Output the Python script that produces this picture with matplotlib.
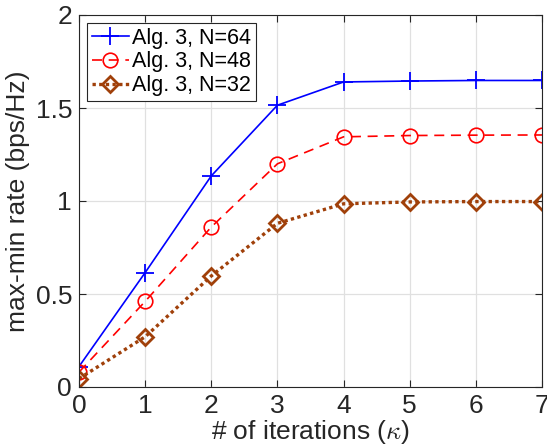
import matplotlib.pyplot as plt

iterations = [0, 1, 2, 3, 4, 5, 6, 7]
rate_n64 = [0.11, 0.615, 1.135, 1.515, 1.640, 1.645, 1.648, 1.648]
rate_n48 = [0.08, 0.46, 0.86, 1.20, 1.345, 1.352, 1.354, 1.355]
rate_n32 = [0.045, 0.27, 0.597, 0.88, 0.985, 0.995, 0.997, 0.997]
labels = ["Alg. 3, N=64", "Alg. 3, N=48", "Alg. 3, N=32"]

plt.rcParams.update({
    "font.family": ["Liberation Sans", "DejaVu Sans"],
    "mathtext.fontset": "cm",
    "font.size": 19,
})

fig = plt.figure(figsize=(5.47, 4.47), dpi=100)
ax = fig.add_axes([79 / 547, (447 - 387) / 447, (542 - 79) / 547, (387 - 15) / 447])

ax.plot(iterations, rate_n64, color="#0000ff", linestyle="-", linewidth=1.2,
        marker="+", markersize=13, markeredgewidth=1.3, label=labels[0])
ax.plot(iterations, rate_n48, color="#ff0000", linestyle=(0, (6, 4)), linewidth=1.2,
        marker="o", markersize=10.5, markerfacecolor="none", markeredgewidth=1.2,
        label=labels[1])
ax.plot(iterations, rate_n32, color="#a0400a", linestyle=(0, (1, 1)), linewidth=2.4,
        marker="D", markersize=8.5, markerfacecolor="none", markeredgewidth=2.0,
        label=labels[2])

ax.set_xlim(0, 7)
ax.set_ylim(0, 2)
ax.set_xticks(range(8))
ax.set_yticks([0, 0.5, 1, 1.5, 2])
ax.set_yticklabels(["0", "0.5", "1", "1.5", "2"])
ax.grid(True, color="#e0e0e0", linewidth=0.9)
ax.set_axisbelow(True)
ax.tick_params(direction="in", length=5, width=0.8, colors="#262626",
               labelsize=19, top=True, right=True, pad=5)
for s in ax.spines.values():
    s.set_color("#262626")
    s.set_linewidth(0.8)

ax.set_xlabel(r"# of iterations ($\kappa$)", fontsize=19, color="#262626", labelpad=0)
ax.set_ylabel("max-min rate (bps/Hz)", fontsize=19, color="#262626", labelpad=4)

leg = ax.legend(loc="upper left", fontsize=15.5, frameon=True, fancybox=False,
                edgecolor="#262626", framealpha=1, borderpad=0.25,
                handlelength=1.7, handletextpad=0.15, labelspacing=0.12,
                borderaxespad=0.35)
leg.get_frame().set_linewidth(0.8)

fig.savefig("out.png", dpi=100)
